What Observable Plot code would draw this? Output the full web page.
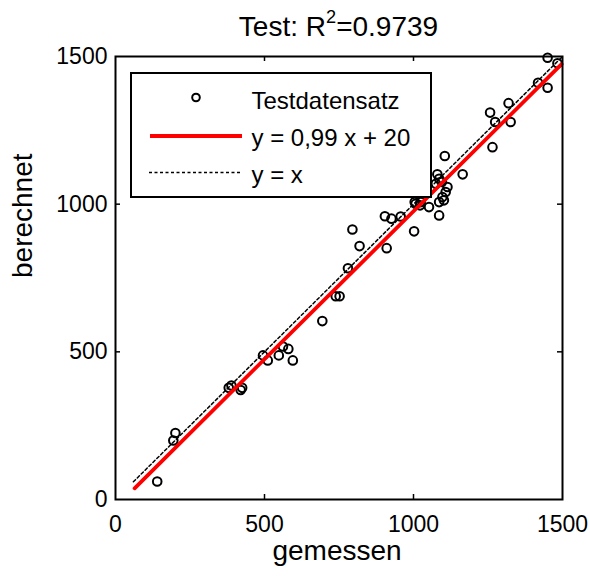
<!DOCTYPE html>
<html>
<head>
<meta charset="utf-8">
<script src="https://cdn.jsdelivr.net/npm/d3@7"></script>
<script src="https://cdn.jsdelivr.net/npm/@observablehq/plot@0.6"></script>
<style>
  html, body { margin: 0; padding: 0; background: #fff; }
  #wrap { position: relative; width: 590px; height: 576px; font-family: "Liberation Sans", Arial, sans-serif; }
  #title { position: absolute; left: 115px; width: 447px; top: 11px; text-align: center; font-size: 28px; line-height: normal; color: #000; white-space: nowrap; }
  #title sup { font-size: 0.65em; vertical-align: 13.5px; line-height: 0; }
  #chart { position: absolute; left: 0; top: 40px; }
  #legend { position: absolute; left: 130px; top: 72px; }
</style>
</head>
<body>
<div id="wrap">
  <div id="title">Test: R<sup>2</sup>=0.9739</div>
  <div id="chart"></div>
  <div id="legend"></div>
</div>
<script>
// ---- data ----
const gemessen = [140, 201, 194, 380, 389, 420, 425, 495, 511, 548, 562, 580, 595, 694, 739, 752,
  780, 819, 795, 910, 904, 926, 957, 1002, 1004, 1007, 1022, 1024, 1052, 1086, 1102, 1097, 1086,
  1108, 1114, 1095, 1086, 1075, 1080, 1165, 1105, 1265, 1450, 1483, 1418, 1450, 1319, 1257, 1274, 1326];
const berechnet = [61, 225, 200, 378, 386, 371, 378, 488, 471, 488, 518, 510, 471, 604, 688, 688,
  783, 858, 914, 851, 959, 951, 958, 908, 1007, 1001, 996, 1007, 990, 1007, 1013, 1024, 962,
  1041, 1058, 1075, 1086, 1069, 1101, 1101, 1163, 1193, 1496, 1477, 1411, 1394, 1342, 1310, 1278, 1278];
const fitX = [64, 1497];
const fitY = [38, 1474];
const identX = [60, 1497];
const xTicks = [0, 500, 1000, 1500];
const yTicks = [0, 500, 1000, 1500];
const innerTicks = [500, 1000];
const xLabel = "gemessen";
const yLabel = "berechnet";
const legendLabels = ["Testdatensatz", "y = 0,99 x + 20", "y = x"];

const points = gemessen.map((g, i) => ({x: g, y: berechnet[i]}));
const fit = fitX.map((x, i) => ({x, y: fitY[i]}));
const ident = identX.map(x => ({x, y: x}));

const W = 590, H = 536, mL = 115, mR = 28, mT = 16, mB = 77;
const fW = W - mL - mR, fH = H - mT - mB;
const tickLen = 5;

const plot = Plot.plot({
  width: W, height: H,
  marginLeft: mL, marginRight: mR, marginTop: mT, marginBottom: mB,
  style: {fontFamily: '"Liberation Sans", Arial, sans-serif', color: "#000", background: "#fff"},
  x: {domain: [0, 1500]},
  y: {domain: [0, 1500]},
  marks: [
    Plot.axisX({ticks: xTicks, tickFormat: d => String(d), tickSize: 0, tickPadding: 16, fontSize: 23, label: null}),
    Plot.axisY({ticks: yTicks, tickFormat: d => String(d), tickSize: 0, tickPadding: 8, fontSize: 23, label: null}),
    Plot.ruleX(innerTicks, {x: d => d, insetTop: fH - tickLen, stroke: "#000", strokeWidth: 1.5}),
    Plot.ruleX(innerTicks, {x: d => d, insetBottom: fH - tickLen, stroke: "#000", strokeWidth: 1.5}),
    Plot.ruleY(innerTicks, {y: d => d, insetRight: fW - tickLen, stroke: "#000", strokeWidth: 1.5}),
    Plot.ruleY(innerTicks, {y: d => d, insetLeft: fW - tickLen, stroke: "#000", strokeWidth: 1.5}),
    Plot.dot(points, {x: "x", y: "y", r: 4.3, stroke: "#000", strokeWidth: 2, fill: "none"}),
    Plot.line(fit, {x: "x", y: "y", stroke: "#ff0000", strokeWidth: 3.8}),
    Plot.line(ident, {x: "x", y: "y", stroke: "#000", strokeWidth: 1.5, strokeDasharray: "3,2.5"}),
    Plot.frame({stroke: "#000", strokeWidth: 2}),
    Plot.text([xLabel], {text: d => d, frameAnchor: "bottom", dy: 60, dx: -2, fontSize: 28, fill: "#000"}),
    Plot.text([yLabel], {text: d => d, frameAnchor: "left", dx: -92, rotate: -90, fontSize: 28, fill: "#000"})
  ]
});
document.getElementById("chart").appendChild(plot);

// legend box (overlay, opaque like the original)
const lg = d3.select("#legend").append("svg").attr("width", 302).attr("height", 126)
  .style("font-family", '"Liberation Sans", Arial, sans-serif');
lg.append("rect").attr("x", 1).attr("y", 1).attr("width", 300).attr("height", 124)
  .attr("fill", "#fff").attr("stroke", "#000").attr("stroke-width", 2);
lg.append("circle").attr("cx", 66).attr("cy", 25.5).attr("r", 3.8)
  .attr("fill", "none").attr("stroke", "#000").attr("stroke-width", 2);
lg.append("line").attr("x1", 20).attr("x2", 112).attr("y1", 64).attr("y2", 64)
  .attr("stroke", "#ff0000").attr("stroke-width", 3.8);
lg.append("line").attr("x1", 19).attr("x2", 110).attr("y1", 100.5).attr("y2", 100.5)
  .attr("stroke", "#000").attr("stroke-width", 1.5).attr("stroke-dasharray", "3,2.5");
const baselines = [36.6, 73.6, 110.6];
legendLabels.forEach((t, i) => {
  lg.append("text").attr("x", 121.5).attr("y", baselines[i]).attr("font-size", 24)
    .attr("fill", "#000").text(t);
});
</script>
</body>
</html>
